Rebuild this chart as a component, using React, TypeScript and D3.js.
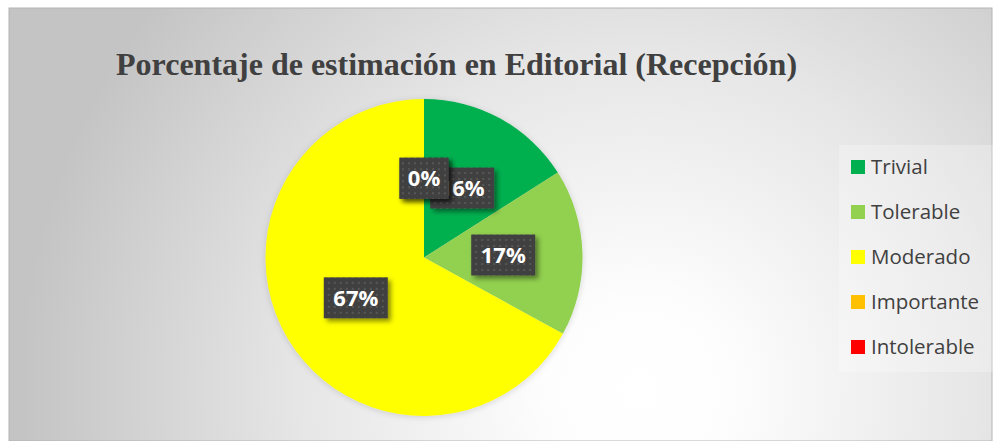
import React from "react";
import * as d3 from "d3";

const title = "Porcentaje de estimación en Editorial (Recepción)";
const categories = ["Trivial", "Tolerable", "Moderado", "Importante", "Intolerable"];
const values = [16, 17, 67, 0, 0];
const colors = ["#00B050", "#92D050", "#FFFF00", "#FFC000", "#FF0000"];

const W = 1000;
const H = 441;

export default function App() {
  const cx = 424;
  const cy = 257.5;
  const R = 158.5;
  const data = categories.map((c, i) => ({ name: c, value: values[i], color: colors[i] }));
  const pie = d3.pie<any>().value((d: any) => d.value).sort(null);
  const arcs = pie(data);
  const arc = d3.arc<any>().innerRadius(0).outerRadius(R);
  const total = d3.sum(values);
  const fmt = (v: number) => `${Math.round((v / total) * 100)}%`;

  const legendX = 851;
  const legendY0 = 167;
  const legendStep = 45;
  const labelFont = 22;

  return (
    <svg
      width={W}
      height={H}
      style={{ position: "absolute", left: 0, top: 0 }}
      xmlns="http://www.w3.org/2000/svg"
    >
      <defs>
        <radialGradient id="bg" gradientUnits="userSpaceOnUse" cx={640} cy={390} r={620}>
          <stop offset="0" stopColor="#ffffff" />
          <stop offset="0.15" stopColor="#fdfdfd" />
          <stop offset="0.55" stopColor="#e6e6e6" />
          <stop offset="1" stopColor="#c4c4c4" />
        </radialGradient>
        <pattern id="dots" width="6" height="6" patternUnits="userSpaceOnUse">
          <rect width="6" height="6" fill="#404040" />
          <rect x="2" y="2" width="2" height="2" fill="#575757" />
        </pattern>
        <filter id="shadow" x="-30%" y="-30%" width="160%" height="160%">
          <feDropShadow dx="3" dy="3" stdDeviation="2.5" floodColor="#000" floodOpacity="0.45" />
        </filter>
        <filter id="pieShadow" x="-10%" y="-10%" width="120%" height="120%">
          <feDropShadow dx="0" dy="1" stdDeviation="3" floodColor="#000" floodOpacity="0.15" />
        </filter>
      </defs>
      <rect x={9} y={8} width={983} height={433} fill="url(#bg)" stroke="#b4b4b4" strokeWidth={1} />
      <text
        x={116}
        y={75}
        fontFamily="'Liberation Serif', 'Times New Roman', serif"
        fontWeight="bold"
        fontSize={32}
        fill="#404040"
      >
        {title}
      </text>

      <g transform={`translate(${cx},${cy})`} filter="url(#pieShadow)">
        {arcs.map((a, i) => (
          <path key={i} d={arc(a) || ""} fill={a.data.color} />
        ))}
      </g>

      <g transform={`translate(${cx},${cy})`}>
        {arcs.map((a, i) => {
          const [lx, ly] = arc.centroid(a);
          const label = fmt(a.data.value);
          const tw = label.length * 0.5 * labelFont + (label.length > 2 ? 0.24 * labelFont : 0.35 * labelFont);
          const bw = label.length === 2 ? 49 : 64;
          const bh = 41;
          return (
            <g key={i} transform={`translate(${lx},${ly})`}>
              <rect x={-bw / 2} y={-bh / 2} width={bw} height={bh} fill="url(#dots)" filter="url(#shadow)" />
              <text
                x={0}
                y={0}
                dy="0.36em"
                textAnchor="middle"
                fontFamily="'Open Sans', sans-serif"
                fontWeight="bold"
                fontSize={labelFont}
                fill="#ffffff"
              >
                {label}
              </text>
            </g>
          );
        })}
      </g>

      <rect x={839} y={145} width={155} height={227} fill="#ffffff" fillOpacity={0.25} />
      {data.map((d, i) => (
        <g key={d.name} transform={`translate(${legendX},${legendY0 + i * legendStep})`}>
          <rect x={0} y={-7} width={14} height={14} fill={d.color} />
          <text
            x={20}
            y={0}
            dy="0.35em"
            fontFamily="'Open Sans', sans-serif"
            fontSize={20.5}
            fill="#404040"
          >
            {d.name}
          </text>
        </g>
      ))}
    </svg>
  );
}
